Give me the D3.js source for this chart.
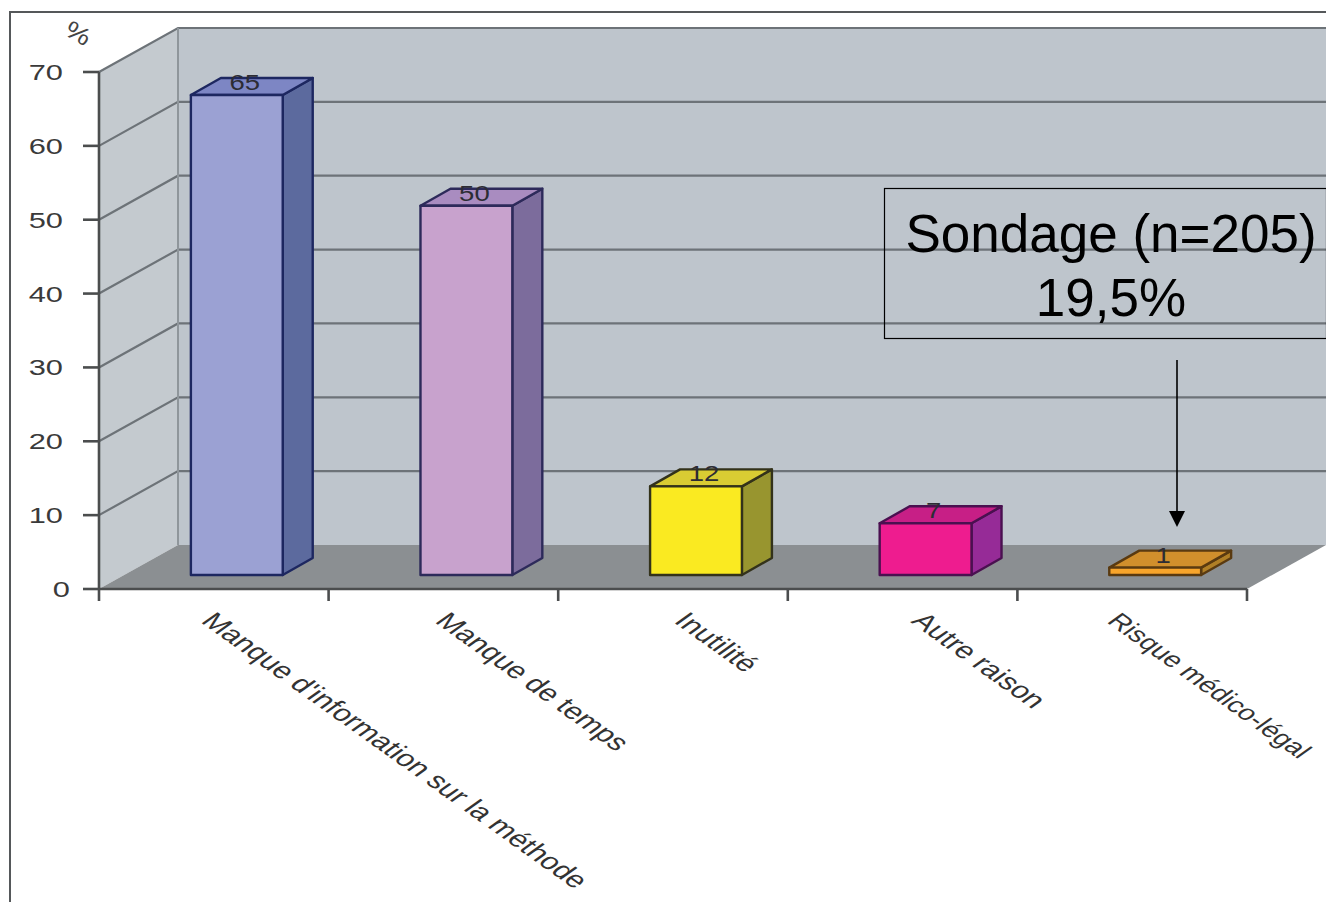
<!DOCTYPE html>
<html lang="fr">
<head>
<meta charset="utf-8">
<title>Sondage</title>
<script src="https://cdn.jsdelivr.net/npm/d3@7"></script>
<style>
html,body{margin:0;padding:0;background:#fff;overflow:hidden}
svg{display:block}
text{font-family:"Liberation Sans",Arial,sans-serif}
</style>
</head>
<body>
<svg id="chart" width="1326" height="902"></svg>
<script>
// Chart data
const categories = ["Manque d'information sur la méthode", "Manque de temps", "Inutilité", "Autre raison", "Risque médico-légal"];
const values = [65, 50, 12, 7, 1];
const yTicks = [0, 10, 20, 30, 40, 50, 60, 70];
const frontColors = ["#9ba1d3", "#c8a2cd", "#faea21", "#ee1c8f", "#f8a52b"];
const topColors = ["#7d86c4", "#a98cc0", "#d9cc33", "#c71f86", "#d18f2c"];
const sideColors = ["#5c6a9e", "#7c6c9c", "#98952f", "#962b97", "#b07f26"];
const edgeColors = ["#1d2760", "#2d2a5a", "#33321a", "#4a1050", "#5a3a10"];
const noteLines = ["Sondage (n=205)", "19,5%"];

const svg = d3.select("#chart");

// Plot frame and oblique projection of the 3D box
const x0 = 99, x1 = 1247, y0 = 589, yTop = 72;
const depthX = 79, depthY = -44;
const barDX = 30, barDY = -17;
const barBaseLift = 14, barShift = 23;

const x = d3.scaleBand().domain(categories).range([x0, x1]).paddingInner(0.6).paddingOuter(0.3);
const xTick = d3.scaleBand().domain(categories).range([x0, x1]);
const y = d3.scaleLinear().domain([0, 70]).range([y0, yTop]);
const poly = pts => pts.map(p => p.join(",")).join(" ");

// Outer frame
svg.append("path").attr("d", "M10,902V12H1326").attr("fill", "none").attr("stroke", "#55585a").attr("stroke-width", 2);

// Back wall, side wall, floor
svg.append("polygon").attr("fill", "#bec5cc")
  .attr("points", poly([[x0 + depthX, y(70) + depthY], [1326, y(70) + depthY], [1326, y0 + depthY], [x0 + depthX, y0 + depthY]]));
svg.append("polygon").attr("fill", "#c4cacf")
  .attr("points", poly([[x0, y(70)], [x0 + depthX, y(70) + depthY], [x0 + depthX, y0 + depthY], [x0, y0]]));
svg.append("polygon").attr("fill", "#8b8f92")
  .attr("points", poly([[x0, y0], [x0 + depthX, y0 + depthY], [1326, y0 + depthY], [x1 + depthX, y0 + depthY], [x1, y0]]));

// Gridlines across both walls, including the top edge of the box
const grid = svg.append("g").attr("fill", "none").attr("stroke", "#6d7378").attr("stroke-width", 2.2);
yTicks.filter(v => v > 0).forEach(v => {
  grid.append("path")
    .attr("d", `M${x0},${y(v)}L${x0 + depthX},${y(v) + depthY}H1326`);
});
svg.append("line").attr("x1", x0 + depthX).attr("x2", x0 + depthX)
  .attr("y1", y(70) + depthY).attr("y2", y0 + depthY)
  .attr("stroke", "#8f969b").attr("stroke-width", 2);

// Axes
const axis = svg.append("g").attr("stroke", "#4b4d4e").attr("stroke-width", 2.6);
axis.append("line").attr("x1", x0).attr("x2", x0).attr("y1", yTop).attr("y2", y0 + 12);
axis.append("line").attr("x1", x0).attr("x2", x1).attr("y1", y0).attr("y2", y0);
yTicks.forEach(v => axis.append("line").attr("x1", x0 - 16).attr("x2", x0).attr("y1", y(v)).attr("y2", y(v)));
categories.forEach(c => {
  const tx = xTick(c) + xTick.bandwidth();
  axis.append("line").attr("x1", tx).attr("x2", tx).attr("y1", y0).attr("y2", y0 + 12);
});

// Y tick labels, widened like the rest of the chart text
const stretch = 1.4;
yTicks.forEach(v => {
  svg.append("text")
    .attr("transform", `translate(${v === 0 ? 70 : 63},${y(v) + 8}) scale(${stretch},1)`)
    .attr("text-anchor", "end").attr("font-size", 22).attr("fill", "#3a3a3a").text(v);
});
svg.append("text")
  .attr("transform", `translate(63,34) rotate(30) scale(1.2,1)`)
  .attr("font-size", 24).attr("fill", "#444").text("%");

// Bars: right side, top, then front face
const bars = svg.append("g").selectAll("g").data(categories).join("g");
bars.each(function (c, i) {
  const g = d3.select(this);
  const left = x(c) + barShift;
  const w = x.bandwidth();
  const right = left + w;
  const bottom = y0 - barBaseLift;
  const top = y(values[i]) - barBaseLift;
  const add = (pts, fill) => g.append("polygon").attr("points", poly(pts)).attr("fill", fill)
    .attr("stroke", edgeColors[i]).attr("stroke-width", 2.4).attr("stroke-linejoin", "round");
  add([[right, bottom], [right + barDX, bottom + barDY], [right + barDX, top + barDY], [right, top]], sideColors[i]);
  add([[left, top], [left + barDX, top + barDY], [right + barDX, top + barDY], [right, top]], topColors[i]);
  add([[left, top], [right, top], [right, bottom], [left, bottom]], frontColors[i]);
  g.append("text")
    .attr("transform", `translate(${left + w / 2 + 8},${top - 5}) scale(1.25,1)`)
    .attr("text-anchor", "middle").attr("font-size", 22).attr("fill", "#2c2c34").text(values[i]);
});

// Category labels, slanted down to the right; the last one is slightly smaller to stay on the page
const labelStarts = [200, 434, 673, 910, 1106];
const labelSizes = [23, 23, 23, 23, 21.5];
categories.forEach((c, i) => {
  svg.append("text")
    .attr("transform", `translate(${labelStarts[i]},622) scale(${stretch},1) rotate(45)`)
    .attr("font-size", labelSizes[i]).attr("fill", "#333").text(c);
});

// Annotation box and arrow
svg.append("rect").attr("x", 884.5).attr("y", 188.5).attr("width", 442).attr("height", 150)
  .attr("fill", "none").attr("stroke", "#000").attr("stroke-width", 1.2);
const note = svg.append("g").attr("text-anchor", "middle").attr("fill", "#000").attr("font-size", 53);
noteLines.forEach((t, i) => note.append("text").attr("x", 1111).attr("y", 252 + i * 64).text(t));

svg.append("line").attr("x1", 1177).attr("x2", 1177).attr("y1", 360).attr("y2", 514)
  .attr("stroke", "#000").attr("stroke-width", 1.6);
svg.append("polygon").attr("points", poly([[1169, 511], [1185, 511], [1177, 527]])).attr("fill", "#000");
</script>
</body>
</html>
